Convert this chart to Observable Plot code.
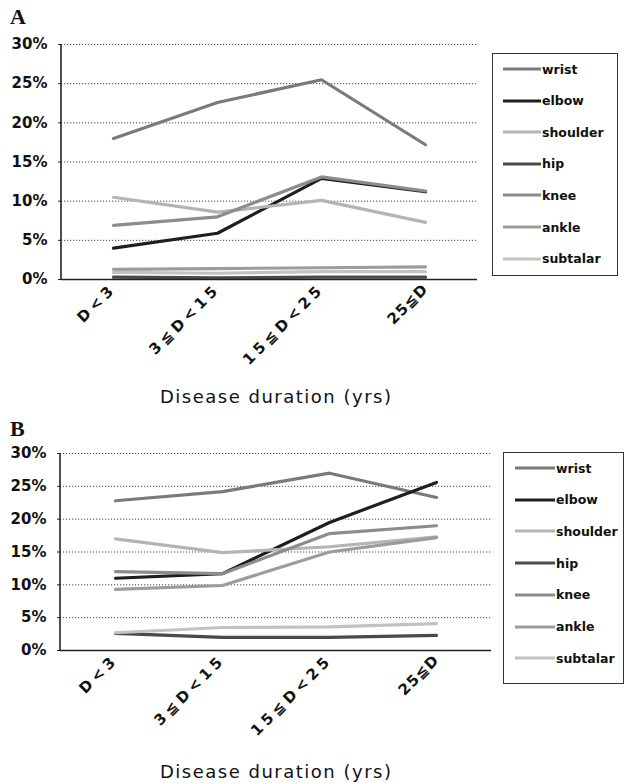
<!DOCTYPE html>
<html>
<head>
<meta charset="utf-8">
<script src="https://cdn.jsdelivr.net/npm/d3@7"></script>
<script src="https://cdn.jsdelivr.net/npm/@observablehq/plot@0.6"></script>
<style>
  body { margin: 0; background: #fff; }
  #page { position: relative; width: 624px; height: 784px; overflow: hidden; background: #fff; }
  .panelLetter { position: absolute; font-family: "Liberation Serif", serif; font-weight: bold; font-size: 22px; line-height: 22px; color: #111; }
  .xtitle { position: absolute; font-family: "DejaVu Sans", sans-serif; font-size: 18px; letter-spacing: 1.5px; line-height: 20px; color: #111; white-space: nowrap; }
  .legend { position: absolute; border: 1px solid #333; box-sizing: border-box; background: #fff; }
  .legItem { position: absolute; display: flex; align-items: center; font-family: "DejaVu Sans", sans-serif; font-weight: bold; font-size: 12.5px; color: #111; white-space: nowrap; }
  .chart { position: absolute; left: 0; }
</style>
</head>
<body>
<div id="page"></div>
<script>
// ---- data ----
const joints = ["wrist", "elbow", "shoulder", "hip", "knee", "ankle", "subtalar"];
const categories = ["D<3", "3≦D<15", "15≦D<25", "25≦D"];
const yTicks = [0, 5, 10, 15, 20, 25, 30];
const xTitle = "Disease duration (yrs)";

// Panel A (%)
const aWrist    = [18.0, 22.6, 25.5, 17.2];
const aElbow    = [4.0, 5.9, 12.9, 11.2];
const aShoulder = [10.5, 8.6, 10.1, 7.3];
const aHip      = [0.3, 0.2, 0.3, 0.3];
const aKnee     = [6.9, 8.0, 13.1, 11.3];
const aAnkle    = [1.3, 1.4, 1.5, 1.6];
const aSubtalar = [0.9, 0.8, 1.0, 1.0];

// Panel B (%)
const bWrist    = [22.8, 24.2, 27.0, 23.3];
const bElbow    = [11.0, 11.7, 19.5, 25.6];
const bShoulder = [17.0, 14.9, 15.8, 17.3];
const bHip      = [2.6, 2.0, 2.0, 2.3];
const bKnee     = [12.0, 11.7, 17.8, 19.0];
const bAnkle    = [9.3, 9.9, 15.0, 17.2];
const bSubtalar = [2.7, 3.5, 3.6, 4.1];

const jointColors = ["#7a7a7a", "#1e1e1e", "#b4b4b4", "#4a4a4a", "#8c8c8c", "#9c9c9c", "#c2c2c2"];

function toRows(seriesList) {
  const rows = [];
  joints.forEach((j, i) => seriesList[i].forEach((v, k) => rows.push({joint: j, cat: categories[k], value: v})));
  return rows;
}
const dataA = toRows([aWrist, aElbow, aShoulder, aHip, aKnee, aAnkle, aSubtalar]);
const dataB = toRows([bWrist, bElbow, bShoulder, bHip, bKnee, bAnkle, bSubtalar]);

const page = document.getElementById("page");

function makePanel(data, cfg) {
  const chart = Plot.plot({
    width: 624,
    height: cfg.height,
    marginLeft: cfg.ml,
    marginRight: cfg.mr,
    marginTop: cfg.mt,
    marginBottom: cfg.mb,
    style: {background: "transparent", overflow: "visible", fontFamily: "DejaVu Sans, sans-serif", fontSize: "15px", fontWeight: "bold", color: "#111"},
    x: {type: "point", domain: categories, padding: 0.5},
    y: {domain: [0, 30]},
    color: {domain: joints, range: jointColors},
    marks: [
      Plot.ruleY(yTicks.filter(t => t > 0), {stroke: "#333", strokeDasharray: "1.2,1.8", strokeWidth: 1, strokeOpacity: 0.9}),
      Plot.axisY({ticks: yTicks, tickFormat: d => d + "%", tickSize: 3, tickPadding: 11, label: null, stroke: "#222"}),
      Plot.axisX({tickRotate: -45, tickSize: 0, tickPadding: 7, label: null}),
      Plot.line(data, {x: "cat", y: "value", z: "joint", stroke: "joint", strokeWidth: 3.2, strokeLinejoin: "miter"}),
      Plot.ruleY([0], {stroke: "#222", strokeWidth: 1.6})
    ]
  });
  // left axis line drawn from the scales' ranges
  const xr = chart.scale("x").range, yr = chart.scale("y").range;
  d3.select(chart).append("line")
    .attr("x1", xr[0]).attr("x2", xr[0])
    .attr("y1", yr[0]).attr("y2", yr[1])
    .attr("stroke", "#222").attr("stroke-width", 1.6);
  // letter spacing for tick labels
  d3.select(chart).selectAll("g[aria-label='x-axis tick label'] text")
    .attr("letter-spacing", (d, i) => i < 3 ? "4px" : "1px");
  chart.classList.add("chart");
  chart.style.position = "absolute";
  chart.style.top = cfg.top + "px";
  chart.style.left = "0px";
  page.appendChild(chart);
}

function addLegend(cfg) {
  const box = document.createElement("div");
  box.className = "legend";
  Object.assign(box.style, {left: cfg.left + "px", top: cfg.top + "px", width: cfg.w + "px", height: cfg.h + "px"});
  page.appendChild(box);
  joints.forEach((j, i) => {
    const item = document.createElement("div");
    item.className = "legItem";
    item.style.left = (cfg.sx - cfg.left - 1) + "px";
    item.style.top = (cfg.y0 + i * cfg.step - cfg.top - 9) + "px";
    item.style.height = "18px";
    const svg = d3.create("svg").attr("width", cfg.sw).attr("height", 6);
    svg.append("line").attr("x1", 0).attr("x2", cfg.sw).attr("y1", 3).attr("y2", 3)
      .attr("stroke", jointColors[i]).attr("stroke-width", 3);
    item.appendChild(svg.node());
    const t = document.createElement("span");
    t.textContent = j;
    t.style.marginLeft = "1px";
    item.appendChild(t);
    box.appendChild(item);
  });
}

function addText(cls, text, left, top) {
  const d = document.createElement("div");
  d.className = cls;
  d.textContent = text;
  d.style.left = left + "px";
  d.style.top = top + "px";
  page.appendChild(d);
  return d;
}

// Panel A
makePanel(dataA, {top: 0, height: 380, ml: 61, mr: 147, mt: 44, mb: 101});
addLegend({left: 492, top: 53, w: 126, h: 223, sx: 503, sw: 38, y0: 68, step: 31.6});
addText("panelLetter", "A", 10, 6);
addText("xtitle", xTitle, 160, 387);

// Panel B
makePanel(dataB, {top: 400, height: 350, ml: 60, mr: 133, mt: 53, mb: 100});
addLegend({left: 503, top: 452, w: 121, h: 232, sx: 515, sw: 40, y0: 467, step: 31.7});
addText("panelLetter", "B", 10, 418);
addText("xtitle", xTitle, 160, 762);
</script>
</body>
</html>
